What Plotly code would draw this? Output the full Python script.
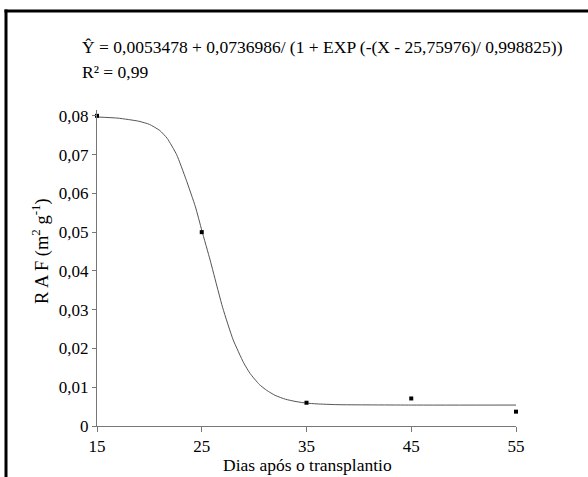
import plotly.graph_objects as go

# Observed data
dias = [15, 25, 35, 45, 55]
raf = [0.0800, 0.0500, 0.0060, 0.0071, 0.0037]

# Fitted curve
curva_x = [15, 17, 19, 20, 21, 21.7, 22.6, 23.5, 24.4, 25, 25.8, 26.1, 27, 28, 29, 29.6,
           30.5, 31.2, 32, 33, 34, 35, 36, 38, 45, 55]
curva_y = [0.0797, 0.0794, 0.0786, 0.0778, 0.0762, 0.0742, 0.0700, 0.0636, 0.0565, 0.0505,
           0.0428, 0.0397, 0.0305, 0.0222, 0.0163, 0.0136, 0.0107, 0.0092, 0.0079, 0.0069,
           0.0063, 0.0059, 0.0057, 0.0055, 0.0054, 0.0054]

x_ticks = [15, 25, 35, 45, 55]
y_ticks = [0, 0.01, 0.02, 0.03, 0.04, 0.05, 0.06, 0.07, 0.08]

W, H = 588, 477
L, R, T, B = 97, 516, 110, 426

def px(x):
    return (x - L) / (R - L)

def py(y):
    return (B - y) / (B - T)

FONT = "Liberation Serif, Times New Roman, DejaVu Serif, serif"

fig = go.Figure()
fig.add_trace(go.Scatter(x=curva_x, y=curva_y, mode="lines",
                         line=dict(color="#555555", width=1, shape="spline", smoothing=0.5),
                         hoverinfo="skip", showlegend=False))
fig.add_trace(go.Scatter(x=dias, y=raf, mode="markers", marker=dict(symbol="square", size=4, color="black"),
                         cliponaxis=False, showlegend=False))

fig.update_layout(
    width=W, height=H,
    margin=dict(l=L, r=W - R, t=T, b=H - B),
    paper_bgcolor="white", plot_bgcolor="white",
    separators=",.",
    font=dict(family=FONT, color="black", size=17),
    xaxis=dict(range=[15, 55], tickvals=x_ticks, showgrid=False, zeroline=False, automargin=False,
               showline=True, linecolor="#777777", linewidth=1,
               ticks="outside", ticklen=5, tickcolor="#777777",
               tickfont=dict(family=FONT, size=17, color="black")),
    yaxis=dict(range=[0, 0.0815], tickvals=y_ticks, showgrid=False, zeroline=False, automargin=False,
               showline=True, linecolor="#777777", linewidth=1,
               ticks="outside", ticklen=4, tickcolor="#777777",
               tickfont=dict(family=FONT, size=17, color="black")),
    shapes=[
        dict(type="line", xref="paper", yref="paper", x0=px(6), x1=px(6), y0=py(9.5), y1=py(H + 5),
             line=dict(color="black", width=3)),
        dict(type="line", xref="paper", yref="paper", x0=px(4.5), x1=px(W + 5), y0=py(11), y1=py(11),
             line=dict(color="black", width=3)),
    ],
    annotations=[
        dict(text="Ŷ = 0,0053478 + 0,0736986/ (1 + EXP (-(X - 25,75976)/ 0,998825))",
             xref="paper", yref="paper", x=px(80), y=py(47), xanchor="left", yanchor="middle",
             showarrow=False, font=dict(family=FONT, size=17.5, color="black")),
        dict(text="R² = 0,99", xref="paper", yref="paper", x=px(80), y=py(72), xanchor="left", yanchor="middle",
             showarrow=False, font=dict(family=FONT, size=17.5, color="black")),
        dict(text="Dias após o transplantio", xref="paper", yref="paper", x=px(307), y=py(465),
             xanchor="center", yanchor="middle", showarrow=False,
             font=dict(family=FONT, size=17.5, color="black")),
        dict(text="R A F (m<sup>2</sup> g<sup>-1</sup>)", xref="paper", yref="paper", x=px(40), y=py(251),
             xanchor="center", yanchor="middle", textangle=-90, showarrow=False,
             font=dict(family=FONT, size=18.5, color="black")),
    ],
)

fig.write_html("out.html")
